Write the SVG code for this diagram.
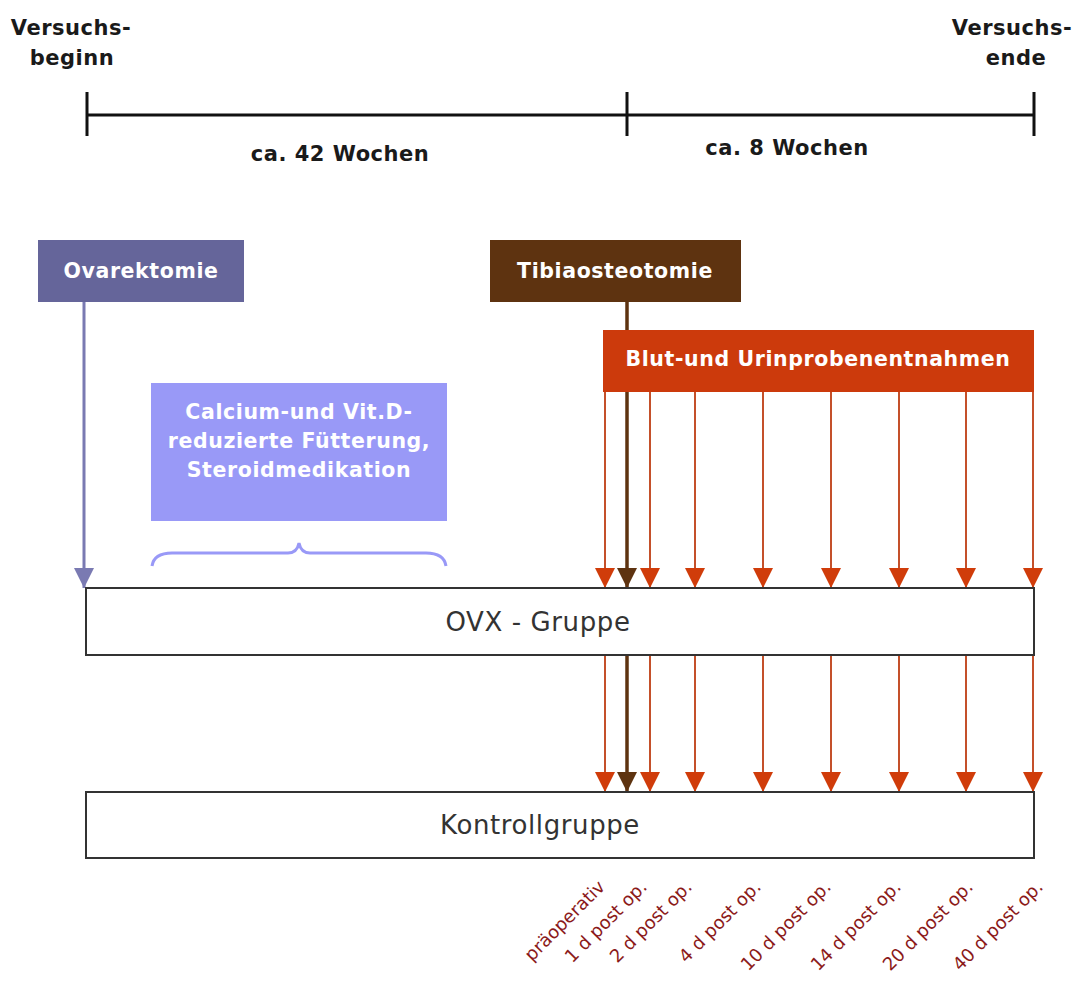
<svg xmlns="http://www.w3.org/2000/svg" width="1084" height="988" viewBox="0 0 1084 988">
<style>
.hdr{font-family:"DejaVu Sans",sans-serif;font-weight:bold;font-size:21px;letter-spacing:0.5px;fill:#1a1a1a;text-anchor:middle}
.wt{font-family:"DejaVu Sans",sans-serif;font-weight:bold;font-size:20.5px;letter-spacing:0.6px;fill:#ffffff;text-anchor:middle}
.grp{font-family:"DejaVu Sans",sans-serif;font-size:26px;letter-spacing:0.6px;fill:#333333;text-anchor:middle}
.lbl{font-family:"DejaVu Sans",sans-serif;font-size:18px;fill:#8b1a1a;text-anchor:end}
.tl{stroke:#111;stroke-width:3;fill:none}
.red{stroke:#c4502a;stroke-width:2;fill:none}
.brn{stroke:#5e3310;stroke-width:3.5;fill:none}
.ovx{stroke:#7a7ab2;stroke-width:3;fill:none}
.box{fill:#ffffff;stroke:#333;stroke-width:2}
</style>
<defs>
<marker id="ar" viewBox="0 0 20 20" refX="20" refY="10" markerWidth="20" markerHeight="20" markerUnits="userSpaceOnUse" orient="auto"><path d="M0,0 L20,10 L0,20 z" fill="#d03c0a"/></marker>
<marker id="ab" viewBox="0 0 20 20" refX="20" refY="10" markerWidth="20" markerHeight="20" markerUnits="userSpaceOnUse" orient="auto"><path d="M0,0 L20,10 L0,20 z" fill="#5e3310"/></marker>
<marker id="ap" viewBox="0 0 20 20" refX="20" refY="10" markerWidth="20" markerHeight="20" markerUnits="userSpaceOnUse" orient="auto"><path d="M0,0 L20,10 L0,20 z" fill="#7a7ab2"/></marker>
</defs>
<rect width="1084" height="988" fill="#ffffff"/>

<g id="timeline">
<path class="tl" d="M87,115 H1034 M87,92 V136 M627,92 V136 M1034,92 V136"/>
<text class="hdr" x="71" y="35">Versuchs-</text>
<text class="hdr" x="72" y="65">beginn</text>
<text class="hdr" x="1012" y="35">Versuchs-</text>
<text class="hdr" x="1016" y="65">ende</text>
<text class="hdr" x="340" y="161">ca. 42 Wochen</text>
<text class="hdr" x="787" y="155">ca. 8 Wochen</text>
</g>

<g id="connectors">
<line class="ovx" x1="84" y1="302" x2="84" y2="588" marker-end="url(#ap)"/>
<line class="red" x1="605" y1="392" x2="605" y2="588" marker-end="url(#ar)"/>
<line class="red" x1="650" y1="392" x2="650" y2="588" marker-end="url(#ar)"/>
<line class="red" x1="695" y1="392" x2="695" y2="588" marker-end="url(#ar)"/>
<line class="red" x1="763" y1="392" x2="763" y2="588" marker-end="url(#ar)"/>
<line class="red" x1="831" y1="392" x2="831" y2="588" marker-end="url(#ar)"/>
<line class="red" x1="899" y1="392" x2="899" y2="588" marker-end="url(#ar)"/>
<line class="red" x1="966" y1="392" x2="966" y2="588" marker-end="url(#ar)"/>
<line class="red" x1="1033" y1="392" x2="1033" y2="588" marker-end="url(#ar)"/>
<line class="red" x1="605" y1="655" x2="605" y2="792" marker-end="url(#ar)"/>
<line class="red" x1="650" y1="655" x2="650" y2="792" marker-end="url(#ar)"/>
<line class="red" x1="695" y1="655" x2="695" y2="792" marker-end="url(#ar)"/>
<line class="red" x1="763" y1="655" x2="763" y2="792" marker-end="url(#ar)"/>
<line class="red" x1="831" y1="655" x2="831" y2="792" marker-end="url(#ar)"/>
<line class="red" x1="899" y1="655" x2="899" y2="792" marker-end="url(#ar)"/>
<line class="red" x1="966" y1="655" x2="966" y2="792" marker-end="url(#ar)"/>
<line class="red" x1="1033" y1="655" x2="1033" y2="792" marker-end="url(#ar)"/>
<line class="brn" x1="627" y1="302" x2="627" y2="588" marker-end="url(#ab)"/>
<line class="brn" x1="627" y1="655" x2="627" y2="792" marker-end="url(#ab)"/>
</g>

<g id="ovarektomie">
<rect x="38" y="240" width="206" height="62" fill="#65659a"/>
<text class="wt" x="141" y="278">Ovarektomie</text>
</g>

<g id="tibiaosteotomie">
<rect x="490" y="240" width="251" height="62" fill="#5e3310"/>
<text class="wt" x="615" y="278">Tibiaosteotomie</text>
</g>

<g id="probenentnahmen">
<rect x="603" y="330" width="431" height="62" fill="#cc3a0c"/>
<text class="wt" x="818" y="366">Blut-und Urinprobenentnahmen</text>
</g>

<g id="fuetterung">
<rect x="151" y="383" width="296" height="138" fill="#9999f7"/>
<text class="wt" x="299" y="419">Calcium-und Vit.D-</text>
<text class="wt" x="299" y="448">reduzierte Fütterung,</text>
<text class="wt" x="299" y="477">Steroidmedikation</text>
<path d="M152,566 Q154,553 172,553 H288 Q297,553 299,543 Q301,553 310,553 H426 Q444,553 446,566" fill="none" stroke="#9999f7" stroke-width="3"/>
</g>

<g id="ovx-gruppe">
<rect class="box" x="86" y="588" width="948" height="67"/>
<text class="grp" x="538" y="631">OVX - Gruppe</text>
</g>

<g id="kontrollgruppe">
<rect class="box" x="86" y="792" width="948" height="66"/>
<text class="grp" x="540" y="834">Kontrollgruppe</text>
</g>

<g id="labels">
<text class="lbl" transform="translate(606,888) rotate(-45)">präoperativ</text>
<text class="lbl" transform="translate(648,888) rotate(-45)">1 d post op.</text>
<text class="lbl" transform="translate(693,888) rotate(-45)">2 d post op.</text>
<text class="lbl" transform="translate(762,888) rotate(-45)">4 d post op.</text>
<text class="lbl" transform="translate(832,888) rotate(-45)">10 d post op.</text>
<text class="lbl" transform="translate(902,888) rotate(-45)">14 d post op.</text>
<text class="lbl" transform="translate(974,888) rotate(-45)">20 d post op.</text>
<text class="lbl" transform="translate(1044,888) rotate(-45)">40 d post op.</text>
</g>
</svg>
